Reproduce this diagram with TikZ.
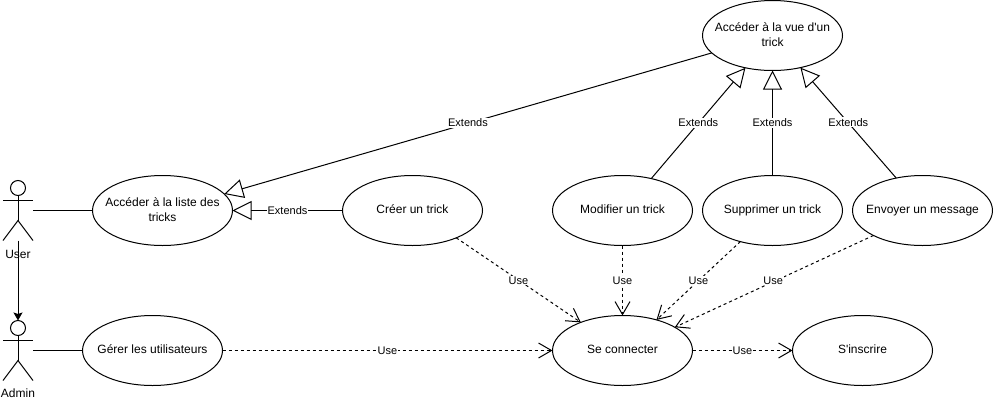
\documentclass[tikz,border=0pt]{standalone}
\usepackage{fontspec}
\setmainfont{Liberation Sans}[Ligatures=TeXOff]
\usetikzlibrary{shapes.geometric,arrows.meta}
\newcommand{\uctext}[1]{\makebox[0pt][c]{\begin{tabular}{@{}c@{}}#1\end{tabular}}}
\tikzset{
  usecase/.style={draw=black,fill=white,ellipse,line width=1pt,minimum width=140pt,minimum height=70pt,inner sep=0pt,outer sep=0pt,font=\fontsize{12}{15}\selectfont},
  actorbox/.style={rectangle,minimum width=30pt,minimum height=60pt,inner sep=0pt,outer sep=0pt},
  actorline/.style={draw=black,line width=1pt},
  actorlabel/.style={inner sep=0pt,font=\fontsize{12}{15}\selectfont},
  assoc/.style={draw=black,line width=1pt},
  extendsedge/.style={draw=black,line width=1pt,-{Triangle[open,length=19pt,width=19pt,line width=1pt]}},
  useedge/.style={draw=black,line width=1pt,dash pattern=on 3pt off 3pt,-{Straight Barb[length=13pt,width=15pt,line width=1pt]}},
  edgelabel/.style={midway,fill=white,inner xsep=1pt,inner ysep=1pt,font=\fontsize{11}{13}\selectfont}
}
\begin{document}
\begin{tikzpicture}[x=1pt,y=-1pt]
\useasboundingbox (0,0) rectangle (993,402);
% use cases
\node[usecase] (vue) at (772.5,35.5) {\uctext{Accéder à la vue d'un\\trick}};
\node[usecase] (liste) at (162.5,210.5) {\uctext{Accéder à la liste des\\tricks}};
\node[usecase] (creer) at (412.5,210.5) {\uctext{Créer un trick}};
\node[usecase] (modifier) at (622.5,210.5) {\uctext{Modifier un trick}};
\node[usecase] (supprimer) at (772.5,210.5) {\uctext{Supprimer un trick}};
\node[usecase] (envoyer) at (922.5,210.5) {\uctext{Envoyer un message}};
\node[usecase] (gerer) at (152.5,350.5) {\uctext{Gérer les utilisateurs}};
\node[usecase] (connecter) at (622.5,350.5) {\uctext{Se connecter}};
\node[usecase] (inscrire) at (862.5,350.5) {\uctext{S'inscrire}};
% actors
\node[actorbox] (user) at (18,210.5) {};
\node[actorbox] (admin) at (18,350.5) {};
\node[actorlabel] (userlabel) at (18,254) {User};
\node[actorlabel] (adminlabel) at (18,393.5) {Admin};
\foreach \a in {user,admin}{
  \draw[actorline] ([yshift=22.5pt]\a.center) circle[radius=7.5pt];
  \draw[actorline] ([yshift=-15pt]\a.north) -- ([yshift=-40pt]\a.north);
  \draw[actorline] ([yshift=-20pt]\a.north west) -- ([yshift=-20pt]\a.north east);
  \draw[actorline] (\a.south west) -- ([yshift=-40pt]\a.north) -- (\a.south east);
}
% associations
\draw[assoc] (user.east) -- (liste.west);
\draw[assoc] (admin.east) -- (gerer.west);
\draw[draw=black,line width=1pt,-{Stealth[length=8pt,width=9pt,inset=1.5pt]}] (user.south) -- (admin.north);
% extends
\draw[extendsedge] (vue.196.2) -- node[edgelabel,yshift=0.5pt] (e1) {Extends} (liste.15.3);
\draw[extendsedge] (creer.west) -- node[edgelabel] (e2) {Extends} (liste.east);
\draw[extendsedge] (modifier.48.8) -- node[edgelabel,yshift=0.5pt] (e3) {Extends} (vue.230.7);
\draw[extendsedge] (supprimer.north) -- node[edgelabel] (e4) {Extends} (vue.south);
\draw[extendsedge] (envoyer.129.3) -- node[edgelabel,yshift=0.5pt] (e5) {Extends} (vue.311.3);
% use
\draw[useedge] (creer.328) -- node[edgelabel,yshift=-0.5pt] (u1) {Use} (connecter.146.3);
\draw[useedge] (modifier.south) -- node[edgelabel,yshift=-0.5pt] (u2) {Use} (connecter.north);
\draw[useedge] (supprimer.224) -- node[edgelabel] (u3) {Use} (connecter.42.4);
\draw[useedge] (envoyer.207) -- node[edgelabel,xshift=-1pt,yshift=1pt] (u4) {Use} (connecter.24.5);
\draw[useedge] (gerer.east) -- node[edgelabel] (u5) {Use} (connecter.west);
\draw[useedge] (connecter.east) -- node[edgelabel] (u6) {Use} (inscrire.west);
\end{tikzpicture}
\end{document}
